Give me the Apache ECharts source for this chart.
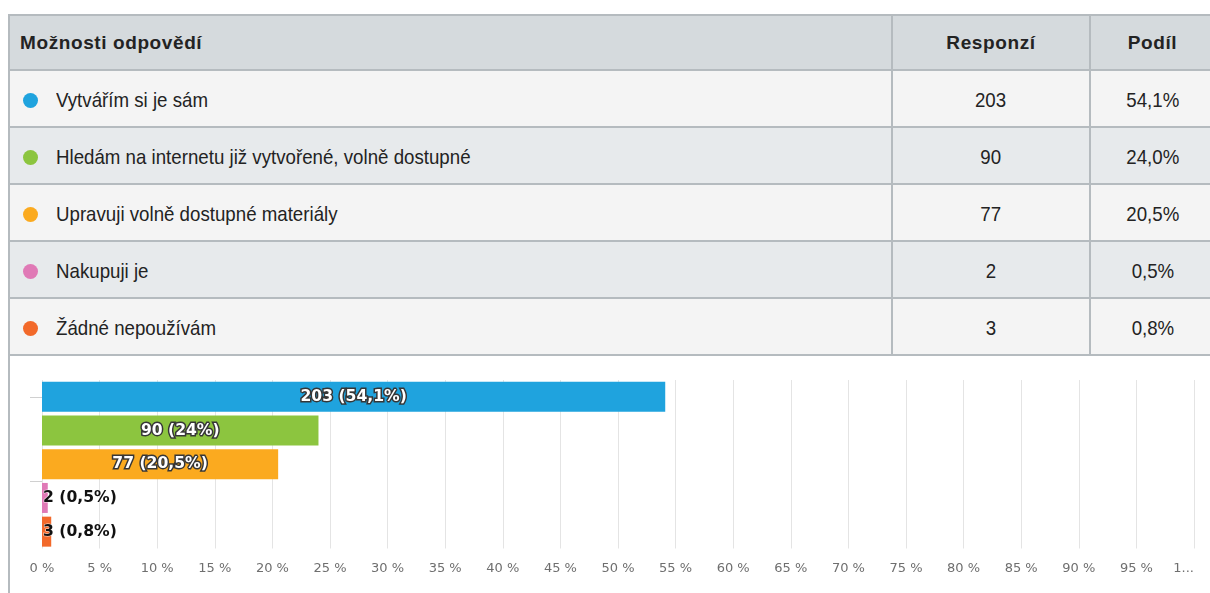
<!DOCTYPE html>
<html>
<head>
<meta charset="utf-8">
<script src="https://cdn.jsdelivr.net/npm/echarts@6/dist/echarts.min.js"></script>
<style>
  html, body { margin: 0; padding: 0; background: #ffffff; width: 1210px; height: 593px; overflow: hidden; }
  #frame { position: absolute; left: 8px; top: 14px; width: 1210px; height: 600px; border-left: 2px solid #b5bbbf; }
  #tbl { position: absolute; left: 8px; top: 14px; border-collapse: collapse; table-layout: fixed; width: 1206px;
         font-family: 'Liberation Sans', 'Arial', sans-serif; color: #232323; }
  #tbl td, #tbl th { border: 2px solid #b5bbbf; padding: 0; }
  #tbl th { background: #d5dadd; height: 53px; font-size: 19px; font-weight: bold; letter-spacing: 0.6px; }
  #tbl th.first { text-align: left; padding-left: 10px; }
  #tbl td { height: 52px; padding-top: 3px; font-size: 21px; }
  #tbl tr.odd td { background: #f4f4f4; }
  #tbl tr.even td { background: #e7eaec; }
  #tbl td.num { text-align: center; }
  #tbl td.opt { padding-left: 13px; }
  .dot { display: inline-block; width: 15px; height: 15px; border-radius: 50%; vertical-align: -1px; margin-right: 18px; }
  .narrow { display: inline-block; transform: scaleX(0.89); transform-origin: left center; white-space: nowrap; }
  .num .narrow { transform-origin: center center; }
  #chart { position: absolute; left: 10px; top: 355px; width: 1200px; height: 238px; }
</style>
</head>
<body>
<div id="frame"></div>
<table id="tbl">
  <colgroup><col style="width:883px"><col style="width:198px"><col style="width:125px"></colgroup>
  <thead><tr><th class="first" id="h0"></th><th id="h1"></th><th id="h2"></th></tr></thead>
  <tbody id="rows"></tbody>
</table>
<div id="chart"></div>
<script>
// Survey answers, response counts and shares (percent of respondents)
const headers = ['Možnosti odpovědí', 'Responzí', 'Podíl'];
const categories = [
  'Vytvářím si je sám',
  'Hledám na internetu již vytvořené, volně dostupné',
  'Upravuji volně dostupné materiály',
  'Nakupuji je',
  'Žádné nepoužívám'
];
const responses = [203, 90, 77, 2, 3];
const shares = [54.1, 24.0, 20.5, 0.5, 0.8];
const colors = ['#1fa3de', '#8cc53f', '#fbaa1f', '#e07ab6', '#f2692a'];
const xTickLabels = ['0 %', '5 %', '10 %', '15 %', '20 %', '25 %', '30 %', '35 %', '40 %', '45 %',
                     '50 %', '55 %', '60 %', '65 %', '70 %', '75 %', '80 %', '85 %', '90 %', '95 %', '1...'];

const comma = v => String(v).replace('.', ',');

// Table of answers
document.getElementById('h0').textContent = headers[0];
document.getElementById('h1').textContent = headers[1];
document.getElementById('h2').textContent = headers[2];
const tbody = document.getElementById('rows');
const narrowText = text => {
  const s = document.createElement('span');
  s.className = 'narrow';
  s.textContent = text;
  return s;
};
categories.forEach((name, i) => {
  const tr = document.createElement('tr');
  tr.className = i % 2 === 0 ? 'odd' : 'even';
  const c0 = document.createElement('td');
  c0.className = 'opt';
  const dot = document.createElement('span');
  dot.className = 'dot';
  dot.style.background = colors[i];
  c0.append(dot, narrowText(name));
  const c1 = document.createElement('td');
  c1.className = 'num';
  c1.appendChild(narrowText(String(responses[i])));
  const c2 = document.createElement('td');
  c2.className = 'num';
  c2.appendChild(narrowText(shares[i].toFixed(1).replace('.', ',') + '%'));
  tr.append(c0, c1, c2);
  tbody.appendChild(tr);
});

// Horizontal bar chart of shares
const chart = echarts.init(document.getElementById('chart'), null, { renderer: 'canvas' });
const barData = shares.map((s, i) => {
  const small = s < 5;
  return {
    value: s,
    itemStyle: { color: colors[i] },
    label: small ? {
      position: 'insideLeft', distance: 1, color: '#111',
      textBorderColor: 'rgba(255,255,255,0.8)', textBorderWidth: 1
    } : {
      position: 'inside', color: '#ffffff',
      textBorderColor: '#363636', textBorderWidth: 3
    }
  };
});

chart.setOption({
  animation: false,
  grid: { left: 32, right: 16, top: 25, bottom: 44.5 },
  xAxis: {
    type: 'value', min: 0, max: 100, interval: 5,
    axisLine: { show: false }, axisTick: { show: false },
    splitLine: { lineStyle: { color: '#e4e4e4', width: 1 } },
    axisLabel: {
      margin: 14, color: '#6f6f6f', fontSize: 13, fontFamily: 'DejaVu Sans',
      alignMaxLabel: 'right',
      formatter: v => xTickLabels[Math.round(v / 5)]
    }
  },
  yAxis: {
    type: 'category', inverse: true, data: categories,
    axisLine: { show: false }, axisLabel: { show: false }, axisTick: { show: false }
  },
  series: [{
    type: 'bar', barWidth: 30,
    data: barData,
    label: {
      show: true, fontFamily: 'DejaVu Sans', fontWeight: 'bold', fontSize: 15.6,
      formatter: p => responses[p.dataIndex] + ' (' + comma(shares[p.dataIndex]) + '%)'
    }
  }]
});

// Two short marks on the category axis: at the first category and at the
// border between the third and fourth category
const x0 = chart.convertToPixel({ xAxisIndex: 0 }, 0);
const yFirst = chart.convertToPixel({ yAxisIndex: 0 }, 0);
const yBorder = (chart.convertToPixel({ yAxisIndex: 0 }, 2) + chart.convertToPixel({ yAxisIndex: 0 }, 3)) / 2;
chart.setOption({
  graphic: [yFirst, yBorder].map(y => ({
    type: 'line', silent: true,
    shape: { x1: x0 - 12, y1: Math.round(y) + 0.5, x2: x0, y2: Math.round(y) + 0.5 },
    style: { stroke: '#d0d0d0', lineWidth: 1 }
  }))
});
</script>
</body>
</html>
